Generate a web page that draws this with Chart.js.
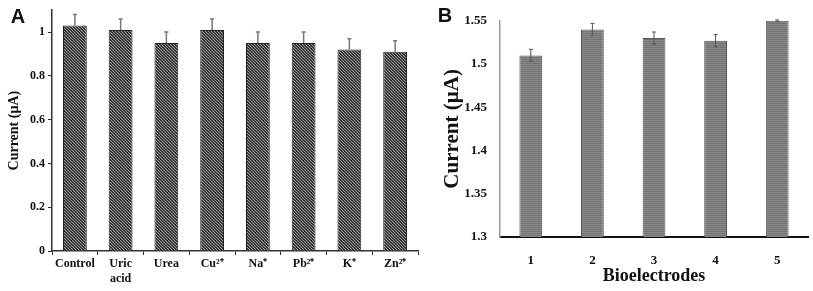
<!DOCTYPE html>
<html>
<head>
<meta charset="utf-8">
<script src="https://cdn.jsdelivr.net/npm/chart.js@4.4.0/dist/chart.umd.min.js"></script>
<style>
  html, body { margin: 0; padding: 0; background: #fff; }
  #chartA { position: absolute; left: 0; top: 0; }
  #chartB { position: absolute; left: 420px; top: 0; }
</style>
</head>
<body>
<canvas id="chartA" width="420" height="291"></canvas>
<canvas id="chartB" width="393" height="291"></canvas>
<script>
// data panel A (interference)
var labelsA = ['Control', ['Uric', 'acid'], 'Urea', 'Cu²⁺', 'Na⁺', 'Pb²⁺', 'K⁺', 'Zn²⁺'];
var valuesA = [1.03, 1.01, 0.95, 1.01, 0.95, 0.95, 0.92, 0.91];
var errorsA = [0.05, 0.05, 0.05, 0.05, 0.05, 0.05, 0.05, 0.05];

// data panel B (reproducibility)
var labelsB = ['1', '2', '3', '4', '5'];
var valuesB = [1.51, 1.54, 1.53, 1.527, 1.55];
var errorsB = [0.007, 0.007, 0.007, 0.007, 0.001];

var serif = "'Liberation Serif', 'Times New Roman', serif";

// bar fill patterns
function makePattern(w, h, draw) {
  var c = document.createElement('canvas');
  c.width = w; c.height = h;
  draw(c.getContext('2d'));
  return c.getContext('2d').createPattern(c, 'repeat');
}
var hatchA = makePattern(3, 3, function (g) {
  g.fillStyle = '#363636';
  g.fillRect(0, 0, 3, 3);
  g.fillStyle = '#9e9e9e';
  g.fillRect(0, 0, 1, 1);
  g.fillRect(1, 1, 1, 1);
  g.fillRect(2, 2, 1, 1);
});
var stripesB = makePattern(1, 2, function (g) {
  g.fillStyle = '#8a8a8a';
  g.fillRect(0, 0, 1, 1);
  g.fillStyle = '#727272';
  g.fillRect(0, 1, 1, 1);
});

// error bars drawn with the y scale
var errorBars = {
  id: 'errorBars',
  afterDatasetsDraw: function (chart, args, opts) {
    var ctx = chart.ctx;
    var meta = chart.getDatasetMeta(0);
    var y = chart.scales.y;
    var vals = chart.data.datasets[0].data;
    ctx.save();
    ctx.strokeStyle = opts.color;
    ctx.lineWidth = opts.width;
    meta.data.forEach(function (bar, i) {
      var top = y.getPixelForValue(vals[i] + opts.err[i]);
      var bot = y.getPixelForValue(opts.both ? vals[i] - opts.err[i] : vals[i]);
      ctx.beginPath();
      ctx.moveTo(bar.x, bot);
      ctx.lineTo(bar.x, top);
      ctx.moveTo(bar.x - opts.cap, top);
      ctx.lineTo(bar.x + opts.cap, top);
      if (opts.both) {
        ctx.moveTo(bar.x - opts.cap, bot);
        ctx.lineTo(bar.x + opts.cap, bot);
      }
      ctx.stroke();
    });
    ctx.restore();
  }
};

// the A / B letters
var panelLetter = {
  id: 'panelLetter',
  afterDraw: function (chart, args, opts) {
    var ctx = chart.ctx;
    ctx.save();
    ctx.fillStyle = '#111';
    ctx.font = "bold 20px 'Liberation Sans', Arial, sans-serif";
    ctx.textAlign = 'center';
    ctx.textBaseline = 'middle';
    ctx.fillText(opts.text, opts.x, opts.y);
    ctx.restore();
  }
};

function plainNum(v) { return String(Number(v.toFixed(2))); }

new Chart(document.getElementById('chartA'), {
  type: 'bar',
  data: {
    labels: labelsA,
    datasets: [{
      data: valuesA,
      backgroundColor: hatchA,
      borderColor: '#222',
      borderWidth: 1,
      barPercentage: 0.52,
      categoryPercentage: 1
    }]
  },
  options: {
    responsive: false,
    animation: false,
    layout: { padding: { top: 7, right: 2, left: 0, bottom: 0 } },
    plugins: {
      legend: { display: false },
      tooltip: { enabled: false },
      errorBars: { err: errorsA, both: false, color: '#777', width: 1.5, cap: 2 },
      panelLetter: { text: 'A', x: 18, y: 17 }
    },
    scales: {
      x: {
        grid: { drawOnChartArea: false, tickLength: 4, color: '#333', offset: true },
        border: { color: '#333', width: 1.5 },
        ticks: { color: '#111', padding: 2, maxRotation: 0, autoSkip: false,
                 font: { family: serif, weight: 'bold', size: 12 } },
        afterFit: function (s) { s.height = 40; }
      },
      y: {
        min: 0,
        max: 1.1,
        afterBuildTicks: function (s) {
          s.ticks = s.ticks.filter(function (t) { return Math.abs(t.value * 5 - Math.round(t.value * 5)) < 1e-6; });
        },
        grid: { drawOnChartArea: false, tickLength: 4, color: '#333' },
        border: { color: '#333', width: 1.5 },
        ticks: { stepSize: 0.2, color: '#111', padding: 3, callback: plainNum,
                 font: { family: serif, weight: 'bold', size: 12 } },
        title: { display: true, text: 'Current (µA)', color: '#111',
                 font: { family: serif, weight: 'bold', size: 14 }, padding: { top: 6, bottom: 0 } },
        afterFit: function (s) { s.width = 52; }
      }
    }
  },
  plugins: [errorBars, panelLetter]
});

new Chart(document.getElementById('chartB'), {
  type: 'bar',
  data: {
    labels: labelsB,
    datasets: [{
      data: valuesB,
      backgroundColor: stripesB,
      borderColor: '#555',
      borderWidth: 1,
      barPercentage: 0.37,
      categoryPercentage: 1
    }]
  },
  options: {
    responsive: false,
    animation: false,
    layout: { padding: { top: 10, right: 5, left: 0, bottom: 0 } },
    plugins: {
      legend: { display: false },
      tooltip: { enabled: false },
      errorBars: { err: errorsB, both: true, color: '#555', width: 1, cap: 2 },
      panelLetter: { text: 'B', x: 25, y: 16 }
    },
    scales: {
      x: {
        grid: { drawOnChartArea: false, drawTicks: false },
        border: { color: '#111', width: 2 },
        ticks: { color: '#111', padding: 16,
                 font: { family: serif, weight: 'bold', size: 13 } },
        title: { display: true, text: 'Bioelectrodes', color: '#111',
                 font: { family: serif, weight: 'bold', size: 18 }, padding: { top: 0, bottom: 4 } },
        afterFit: function (s) { s.height = 54; }
      },
      y: {
        min: 1.3,
        max: 1.55,
        grid: { drawOnChartArea: false, drawTicks: false },
        border: { color: '#999', width: 1.5 },
        ticks: { stepSize: 0.05, color: '#111', padding: 13, callback: plainNum,
                 font: { family: serif, weight: 'bold', size: 13 } },
        title: { display: true, text: 'Current (µA)', color: '#111',
                 font: { family: serif, weight: 'bold', size: 21 }, padding: { top: 20, bottom: 0 } },
        afterFit: function (s) { s.width = 80; }
      }
    }
  },
  plugins: [errorBars, panelLetter]
});
</script>
</body>
</html>
